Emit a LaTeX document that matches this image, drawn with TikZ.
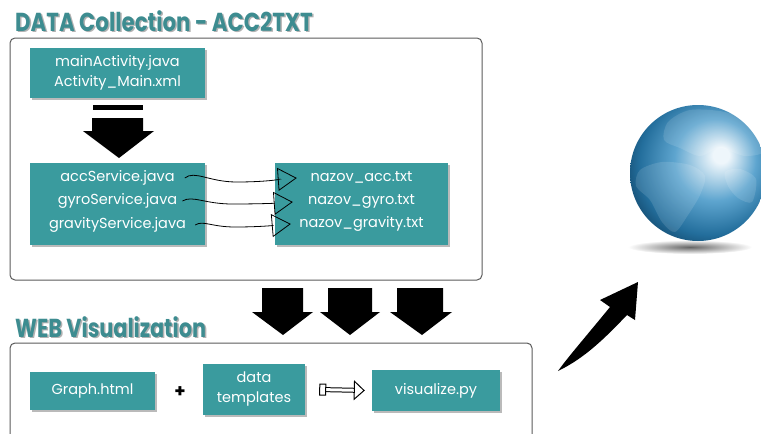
\documentclass[tikz,border=0pt]{standalone}
\usepackage{fontspec}
\setmainfont{Poppins}
\usepackage{tikz}
\usetikzlibrary{arrows.meta}
\usetikzlibrary{calc}
\usetikzlibrary{shadows}

\definecolor{boxteal}{HTML}{3A9B9E}
\definecolor{headteal}{HTML}{3D8C90}
\definecolor{framegray}{HTML}{5A5A5A}
\definecolor{globehi}{HTML}{EEF6FB}
\definecolor{globemid}{HTML}{5EA5CF}
\definecolor{globedark}{HTML}{236E9C}
\definecolor{globedeep}{HTML}{0D3A5A}

% highlight sits up and to the right
\pgfdeclareradialshading{globe}{\pgfpoint{9bp}{7bp}}{color(0bp)=(globehi); color(3bp)=(globehi);
  color(15bp)=(globemid); color(26bp)=(globedark); color(34bp)=(globedeep); color(50bp)=(globedeep)}

\tikzset{
  tealbox/.style={fill=boxteal, inner sep=0pt,
    drop shadow={shadow xshift=2pt, shadow yshift=-2pt, fill=black!60, opacity=.45}},
  boxtext/.style={text=white, font=\fontsize{14.5}{20}\selectfont, align=center, inner sep=0pt},
  frame/.style={draw=framegray, line width=1pt, rounded corners=5pt},
  heading/.style={anchor=base west, inner sep=0pt, font=\bfseries\fontsize{26}{26}\selectfont},
  wire/.style={line width=0.8pt, -{Triangle[open, length=19pt, width=23pt, line width=0.8pt]}},
  hollow/.style={line width=1pt, double distance=3pt,
    {Square[open, length=7pt, width=12pt]}-{Triangle[open, length=11pt, width=20pt]}},
}

\begin{document}
\begin{tikzpicture}[x=1pt, y=-1pt]
  \useasboundingbox (0,0) rectangle (761,434);
  \clip (0,0) rectangle (761,434);

  % --- data collection ---
  \node[heading, text=black!30] at (16.5,32.5) {\scalebox{.82}[1]{DATA Collection - ACC2TXT}};
  \node[heading, text=headteal] (colhead) at (15,31) {\scalebox{.82}[1]{DATA Collection - ACC2TXT}};
  \draw[frame] (10,38) rectangle (482,280);

  \node[tealbox, boxtext, minimum width=175pt, minimum height=50pt] (main) at (117.5,73)
    {mainActivity.java\\Activity\_Main.xml};

  % bar + arrow down to the services
  \fill (93,105) rectangle (143,110);
  \fill (92,118) -- (143,118) -- (143,131) -- (154,131) -- (119,158) -- (83,131) -- (92,131) -- cycle;

  \node[tealbox, minimum width=175pt, minimum height=82pt] (svc) at (117.5,204) {};
  \node[boxtext] (acc) at (117.5,178) {accService.java};
  \node[boxtext] (gyro) at (117.5,201) {gyroService.java};
  \node[boxtext] (grav) at (117.5,225) {gravityService.java};

  \node[tealbox, minimum width=173pt, minimum height=82pt] (files) at (361.5,204) {};
  \node[boxtext] (accf) at (361.5,177) {nazov\_acc.txt};
  \node[boxtext] (gyrof) at (361.5,201) {nazov\_gyro.txt};
  \node[boxtext] (gravf) at (361.5,224) {nazov\_gravity.txt};

  % services write into the txt files
  \draw[wire] ([xshift=10pt]acc.east) .. controls +(10,-8) and +(-28,0) .. ++(52,4)
    .. controls +(30,0) and +(-14,1) .. ($(files.west |- accf)+(22,1)$);
  \draw[wire] ([xshift=5pt]gyro.east) .. controls +(10,-6) and +(-28,0) .. ++(50,3)
    .. controls +(30,0) and +(-14,1) .. ($(files.west |- gyrof)+(18,1)$);
  \draw[wire] ([xshift=9pt]grav.east) .. controls +(8,-5) and +(-24,0) .. ++(40,2)
    .. controls +(26,0) and +(-12,1) .. ($(files.west |- gravf)+(16,0)$);

  % three arrows down to the web part
  \fill (262,288) -- (303,288) -- (303,312) -- (313,312) -- (283,335) -- (252,312) -- (262,312) -- cycle;
  \fill (328,288) -- (372,288) -- (372,312) -- (380,312) -- (350,335) -- (320,312) -- (328,312) -- cycle;
  \fill (397,288) -- (443,288) -- (443,312) -- (452,312) -- (422,335) -- (390,312) -- (397,312) -- cycle;

  % --- web visualization ---
  \node[heading, text=black!30] at (16.5,338.5) {\scalebox{.8}[1]{WEB Visualization}};
  \node[heading, text=headteal] (webhead) at (15,337) {\scalebox{.8}[1]{WEB Visualization}};
  \draw[frame] (10,343) rectangle (532,460);

  \node[tealbox, boxtext, minimum width=125pt, minimum height=38pt] (graph) at (92.5,391) {Graph.html};
  \node[font=\bfseries\fontsize{18}{18}\selectfont, inner sep=0pt] (plus) at (180,392) {+};
  \node[tealbox, boxtext, minimum width=102pt, minimum height=51pt] (tmpl) at (254,389.5) {data\\templates};
  \node[tealbox, boxtext, minimum width=128pt, minimum height=41pt] (vis) at (436,390.5) {visualize.py};
  \draw[hollow] ([xshift=14pt]tmpl.east) -- ([xshift=-7pt]vis.west);

  % curved arrow up to the globe
  \fill (558,371) .. controls (568,357) and (588,334) .. (610,307) -- (600,300) -- (638,282)
    -- (635,320) -- (627,315) .. controls (605,338) and (585,358) .. (558,371) -- cycle;

  % globe with its shadow
  \shade[inner color=black!60, outer color=white] (690,247) ellipse [x radius=62, y radius=7];
  \shade[shading=globe] (698,173) circle [radius=68];
  \begin{scope}
    \clip (698,173) circle [radius=68];
    \fill[white, opacity=.12] plot[smooth cycle] coordinates
      {(668,122) (690,110) (725,112) (752,124) (766,150) (745,156) (720,148) (700,156) (680,148) (664,140)};
    \fill[white, opacity=.12] plot[smooth cycle] coordinates
      {(640,170) (662,162) (690,165) (705,176) (700,195) (688,215) (675,232) (662,222) (650,200) (636,186)};
    \fill[white, opacity=.12] plot[smooth cycle] coordinates
      {(725,172) (740,169) (756,179) (752,202) (738,198) (728,186)};
  \end{scope}
\end{tikzpicture}
\end{document}
